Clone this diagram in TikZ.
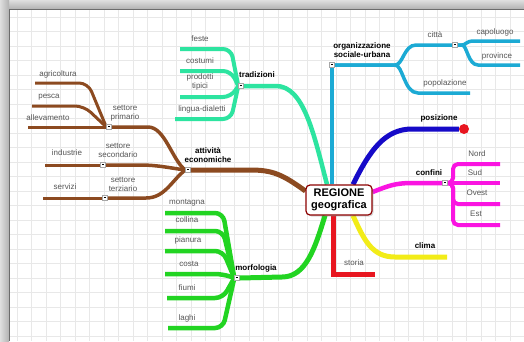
\documentclass[tikz,border=0pt]{standalone}
\usepackage{fontspec}
\setmainfont{Liberation Sans}
\usetikzlibrary{shadows}

\definecolor{brownb}{RGB}{140,74,32}
\definecolor{tealb}{RGB}{45,228,160}
\definecolor{cyanb}{RGB}{28,170,212}
\definecolor{blueb}{RGB}{22,10,200}
\definecolor{magb}{RGB}{250,20,225}
\definecolor{yellowb}{RGB}{242,236,24}
\definecolor{redb}{RGB}{232,22,32}
\definecolor{greenb}{RGB}{34,212,34}
\definecolor{textgray}{RGB}{85,85,85}
\definecolor{gridgray}{RGB}{232,232,232}

\pgfdeclarelayer{back}
\pgfsetlayers{back,main}

\begin{document}
\begin{tikzpicture}[x=1pt,y=-1pt,
  leaf/.style={font=\fontsize{8}{9}\selectfont, text=textgray, align=center, inner sep=0pt},
  topic/.style={font=\bfseries\fontsize{8}{9}\selectfont, align=center, inner sep=0pt},
  minus/.style={draw=gray!70, fill=white, minimum width=5pt, minimum height=5pt, inner sep=0pt},
  hub/.style={draw=red!55!black, line width=1.2pt, fill=white, rounded corners=4pt,
    minimum width=66pt, minimum height=30pt, inner sep=1pt, align=center,
    font=\bfseries\fontsize{11}{11.5}\selectfont,
    drop shadow={shadow xshift=1.5pt, shadow yshift=-1.5pt, opacity=0.3}},
  gridline/.style={gridgray, line width=0.5pt},
  brownmain/.style={brownb, line width=5pt},
  brownsub/.style={brownb, line width=3.5pt},
  brownleaf/.style={brownb, line width=3pt, rounded corners=9pt},
  tealmain/.style={tealb, line width=4.5pt},
  tealsub/.style={tealb, line width=4pt, rounded corners=8pt},
  cyanmain/.style={cyanb, line width=4pt},
  cyansub/.style={cyanb, line width=3.5pt},
  bluemain/.style={blueb, line width=5pt},
  magmain/.style={magb, line width=4.5pt},
  magsub/.style={magb, line width=4pt, rounded corners=5pt},
  yellowmain/.style={yellowb, line width=5pt},
  redmain/.style={redb, line width=5pt},
  greenmain/.style={greenb, line width=5pt},
  greensub/.style={greenb, line width=4.5pt, rounded corners=8pt}]
\useasboundingbox (0,0) rectangle (524,341);

% sheet, grid and window frame
\begin{pgfonlayer}{back}
\fill[white] (0,0) rectangle (524,341);
\foreach \g in {17,31.5,...,524} \draw[gridline] (\g,10) -- (\g,341);
\foreach \g in {17,31.5,...,341} \draw[gridline] (10,\g) -- (524,\g);
\shade[top color=gray!25, bottom color=gray!60] (0,0) rectangle (524,9);
\shade[left color=gray!25, right color=gray!60] (0,0) rectangle (9,341);
\draw[gray!85!black, line width=1.2pt] (9.5,341) -- (9.5,9.5) -- (524,9.5);
\end{pgfonlayer}

% centre
\node[hub] (regione) at (339,200) {REGIONE\\geografica};

% markers
\node[minus] (mattiv) at (188,170) {\rule[1.6pt]{2.4pt}{0.6pt}};
\node[minus] (mprim) at (109,127) {\rule[1.6pt]{2.4pt}{0.6pt}};
\node[minus] (msec) at (103,165) {\rule[1.6pt]{2.4pt}{0.6pt}};
\node[minus] (mter) at (105,198) {\rule[1.6pt]{2.4pt}{0.6pt}};
\node[minus] (mtrad) at (241,86) {\rule[1.6pt]{2.4pt}{0.6pt}};
\node[minus] (mmorf) at (237,278) {\rule[1.6pt]{2.4pt}{0.6pt}};
\node[minus] (morg) at (332,65) {\rule[1.6pt]{2.4pt}{0.6pt}};
\node[minus] (mcitta) at (455,45) {\rule[1.6pt]{2.4pt}{0.6pt}};
\node[minus] (mconf) at (445,183) {\rule[1.6pt]{2.4pt}{0.6pt}};
\node[circle, fill=redb, minimum size=10pt, inner sep=0pt] (pos) at (464,129) {};

% leaf ends
\coordinate (feste) at (180,49);
\coordinate (costumi) at (180,71);
\coordinate (prodotti) at (180,97);
\coordinate (lingua) at (175,119);
\coordinate (popol) at (470,93);
\coordinate (capol) at (520,41);
\coordinate (provin) at (520,65);
\coordinate (nord) at (500,164);
\coordinate (sud) at (500,183);
\coordinate (ovest) at (500,204);
\coordinate (est) at (500,225);
\coordinate (clima) at (447,257);
\coordinate (storia) at (375,274);
\coordinate (montagna) at (165,213);
\coordinate (collina) at (165,231);
\coordinate (pianura) at (165,251);
\coordinate (costa) at (165,274);
\coordinate (fiumi) at (167,298);
\coordinate (laghi) at (168,328);
\coordinate (agri) at (35,83);
\coordinate (pesca) at (32,106);
\coordinate (allev) at (28,127);
\coordinate (indus) at (45,165);
\coordinate (servizi) at (43,198);

\begin{pgfonlayer}{back}
% attivita economiche
\draw[brownmain] ([yshift=9pt]regione.west) .. controls (282,174) and (272,170) .. (250,170) -- (mattiv.east);
\draw[brownsub] (mattiv.west) .. controls (172,160) and (165,127) .. (148,127) -- (mprim.east);
\draw[brownsub] (mattiv.west) .. controls (170,168) and (158,165) .. (140,165) -- (msec.east);
\draw[brownsub] (mattiv.west) .. controls (172,180) and (165,198) .. (146,198) -- (mter.east);
\draw[brownleaf] (mprim.west) -- (88,83) -- (agri);
\draw[brownleaf] (mprim.west) -- (84,106) -- (pesca);
\draw[brownleaf] (mprim.west) -- (allev);
\draw[brownleaf] (msec.west) -- (indus);
\draw[brownleaf] (mter.west) -- (servizi);
% tradizioni
\draw[tealmain] ([xshift=-12pt]regione.north) .. controls (314,135) and (304,86) .. (276,86) -- (mtrad.east);
\draw[tealsub] (mtrad.west) -- (231,49) -- (feste);
\draw[tealsub] (mtrad.west) -- (231,71) -- (costumi);
\draw[tealsub] (mtrad.west) -- (231,97) -- (prodotti);
\draw[tealsub] (mtrad.west) -- (231,119) -- (lingua);
% organizzazione
\draw[cyanmain] ([xshift=-7pt]regione.north) -- (morg.south);
\draw[cyansub] (morg.east) -- (395,65) .. controls (403,65) and (404,45) .. (416,45) -- (mcitta.west);
\draw[cyansub] (morg.east) -- (395,65) .. controls (403,65) and (404,93) .. (418,93) -- (popol);
\draw[cyansub] (mcitta.east) -- (462,45) .. controls (466,45) and (466,41) .. (474,41) -- (capol);
\draw[cyansub] (mcitta.east) -- (462,45) .. controls (467,45) and (468,65) .. (478,65) -- (provin);
% posizione
\draw[bluemain] ([xshift=14pt]regione.north) .. controls (370,150) and (385,129) .. (412,129) -- (pos.west);
% confini
\draw[magmain] ([yshift=8pt]regione.east) .. controls (388,186) and (395,183) .. (412,183) -- (mconf.west);
\draw[magsub] (mconf.east) -- (453,183) -- (453,164) -- (nord);
\draw[magsub] (mconf.east) -- (sud);
\draw[magsub] (mconf.east) -- (453,183) -- (453,204) -- (ovest);
\draw[magsub] (mconf.east) -- (453,183) -- (453,225) -- (est);
% clima
\draw[yellowmain] ([xshift=14pt]regione.south) .. controls (364,240) and (372,257) .. (395,257) -- (clima);
% storia
\draw[redmain] ([xshift=-6pt]regione.south) -- (333,274) -- (storia);
% morfologia
\draw[greenmain] ([xshift=-14pt]regione.south) .. controls (315,248) and (306,277) .. (282,277) -- (mmorf.east);
\draw[greensub] (mmorf.west) -- (223,213) -- (montagna);
\draw[greensub] (mmorf.west) -- (223,231) -- (collina);
\draw[greensub] (mmorf.west) -- (223,251) -- (pianura);
\draw[greensub] (mmorf.west) -- (223,274) -- (costa);
\draw[greensub] (mmorf.west) -- (223,298) -- (fiumi);
\draw[greensub] (mmorf.west) -- (223,328) -- (laghi);
\end{pgfonlayer}

% topic labels
\node[topic] (t-attiv) at (208,155) {attività\\economiche};
\node[topic] (t-trad) at (257,75) {tradizioni};
\node[topic] (t-org) at (362,50) {organizzazione\\sociale-urbana};
\node[topic] (t-pos) at (439,118) {posizione};
\node[topic] (t-conf) at (429,173) {confini};
\node[topic] (t-clima) at (425,246) {clima};
\node[topic] (t-morf) at (256,268) {morfologia};

% leaf labels
\node[leaf] (t-prim) at (125,113) {settore\\primario};
\node[leaf] (t-sec) at (118,150) {settore\\secondario};
\node[leaf] (t-ter) at (123,184) {settore\\terziario};
\node[leaf] (t-agri) at (58,74) {agricoltura};
\node[leaf] (t-pesca) at (49,97) {pesca};
\node[leaf] (t-allev) at (48,118) {allevamento};
\node[leaf] (t-indus) at (67,153) {industrie};
\node[leaf] (t-serv) at (65,187) {servizi};
\node[leaf] (t-feste) at (200,39) {feste};
\node[leaf] (t-cost) at (200,61) {costumi};
\node[leaf] (t-prod) at (200,82) {prodotti\\tipici};
\node[leaf] (t-ling) at (202,109) {lingua-dialetti};
\node[leaf] (t-citta) at (435,35) {città};
\node[leaf] (t-popol) at (445,83) {popolazione};
\node[leaf] (t-capol) at (495,32) {capoluogo};
\node[leaf] (t-prov) at (497,56) {province};
\node[leaf] (t-nord) at (477,154) {Nord};
\node[leaf] (t-sud) at (475,173) {Sud};
\node[leaf] (t-ovest) at (477,193) {Ovest};
\node[leaf] (t-est) at (476,214) {Est};
\node[leaf] (t-storia) at (354,263) {storia};
\node[leaf] (t-mont) at (187,203) {montagna};
\node[leaf] (t-coll) at (187,220) {collina};
\node[leaf] (t-pian) at (188,240) {pianura};
\node[leaf] (t-costa) at (189,264) {costa};
\node[leaf] (t-fiumi) at (187,288) {fiumi};
\node[leaf] (t-laghi) at (187,318) {laghi};
\end{tikzpicture}
\end{document}
